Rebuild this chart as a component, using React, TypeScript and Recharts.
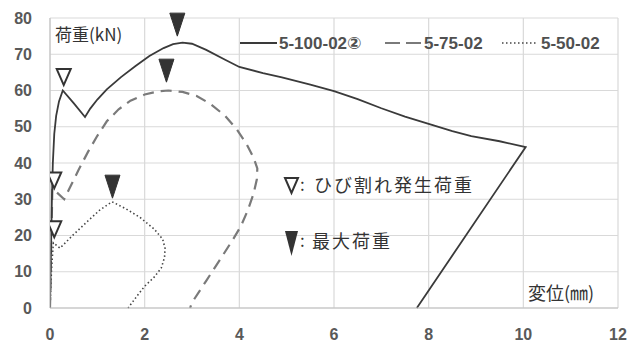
import React from "react";
import {
  ComposedChart,
  Line,
  Scatter,
  XAxis,
  YAxis,
  CartesianGrid,
} from "recharts";

// Series: 5-100-02② (solid)
const s100x = [0, 0.02, 0.04, 0.06, 0.09, 0.13, 0.19, 0.27, 0.5, 0.74, 0.85, 1.0, 1.2, 1.5, 1.8, 2.1, 2.4, 2.6, 2.8, 3.0, 3.3, 3.7, 4.0, 4.5, 4.9, 5.5, 6.0, 6.5, 7.0, 7.5, 8.0, 8.5, 8.9, 9.5, 10.05, 7.75];
const s100y = [0, 15, 30, 40, 48, 53, 57, 60, 56.5, 52.7, 55, 57.5, 60.3, 63.7, 66.7, 69.5, 71.7, 72.8, 73.2, 72.9, 71.2, 68.5, 66.5, 64.8, 63.6, 61.6, 59.8, 57.6, 55.1, 52.8, 50.8, 48.8, 47.4, 46, 44.4, 0];

// Series: 5-75-02 (dashed)
const s75x = [0, 0.03, 0.05, 0.3, 0.45, 0.6, 0.8, 1.0, 1.2, 1.45, 1.7, 2.0, 2.3, 2.5, 2.8, 3.1, 3.4, 3.7, 3.95, 4.15, 4.3, 4.38, 4.37, 4.3, 4.18, 4.03, 3.87, 3.6, 3.3, 3.0, 2.96];
const s75y = [0, 20, 33, 30, 34, 38, 43, 47.5, 51.5, 54.8, 57.2, 58.9, 59.8, 60, 59.6, 58.5, 56.2, 53, 49.2, 45.3, 41.5, 38.5, 35.5, 31.5, 27, 22.5, 19, 13.5, 7.5, 1.5, 0];

// Series: 5-50-02 (dotted)
const s50x = [0, 0.03, 0.07, 0.21, 0.5, 0.8, 1.05, 1.31, 1.6, 1.9, 2.2, 2.38, 2.43, 2.42, 2.35, 2.2, 2.0, 1.85, 1.65];
const s50y = [0, 10, 18, 16.5, 20.3, 24, 27, 29.3, 27.4, 25, 21.8, 19, 16.5, 14, 11, 8.5, 6, 3.5, 0];

// Markers: crack load (open) and max load (filled)
const crackX = [0.29, 0.09, 0.09];
const crackY = [61.5, 33, 19.5];
const maxX = [2.69, 2.46, 1.32];
const maxY = [75, 62.3, 30.3];

const xTicks = [0, 2, 4, 6, 8, 10, 12];
const yTicks = [0, 10, 20, 30, 40, 50, 60, 70, 80];

const zip = (xs: number[], ys: number[]) => xs.map((x, i) => ({ x, y: ys[i] }));
const d100 = zip(s100x, s100y);
const d75 = zip(s75x, s75y);
const d50 = zip(s50x, s50y);
const dCrack = zip(crackX, crackY);
const dMax = zip(maxX, maxY);

const OpenTri = (p: any) => {
  const { cx, cy } = p;
  if (cx == null || cy == null) return null;
  return (
    <polygon
      points={`${cx - 7},${cy - 16} ${cx + 7},${cy - 16} ${cx},${cy}`}
      fill="#fff"
      stroke="#333"
      strokeWidth={2}
    />
  );
};

const FillTri = (p: any) => {
  const { cx, cy } = p;
  if (cx == null || cy == null) return null;
  return (
    <polygon
      points={`${cx - 7.5},${cy - 23} ${cx + 7.5},${cy - 23} ${cx},${cy}`}
      fill="#333"
      stroke="#333"
      strokeWidth={1}
    />
  );
};

const tickStyle = {
  fill: "#595959",
  fontSize: 16,
  fontWeight: "bold" as const,
  fontFamily: "'Liberation Sans', Arial, sans-serif",
};

const jp = "'Noto Sans CJK JP', sans-serif";
const legFont = "'Liberation Sans', 'DejaVu Sans', sans-serif";

export default function App() {
  return (
    <div style={{ position: "absolute", left: 0, top: 0, width: 640, height: 345, background: "#fff" }}>
      <ComposedChart
        width={640}
        height={345}
        margin={{ top: 18, right: 22, bottom: 7, left: 10 }}
      >
        <CartesianGrid stroke="#d9d9d9" strokeWidth={1.2} />
        <XAxis
          type="number"
          dataKey="x"
          domain={[0, 12]}
          ticks={xTicks}
          tickLine={false}
          axisLine={{ stroke: "#c0c0c0" }}
          tick={tickStyle}
          tickMargin={15}
          height={30}
          allowDataOverflow
        />
        <YAxis
          type="number"
          dataKey="y"
          domain={[0, 80]}
          ticks={yTicks}
          tickLine={false}
          axisLine={{ stroke: "#c0c0c0" }}
          tick={tickStyle}
          tickMargin={12}
          width={40}
        />
        <Line data={d50} dataKey="y" type="linear" stroke="#444" strokeWidth={1.6} strokeDasharray="1.5 2.5" dot={false} isAnimationActive={false} />
        <Line data={d75} dataKey="y" type="linear" stroke="#7a7a7a" strokeWidth={2.2} strokeDasharray="11 7" dot={false} isAnimationActive={false} />
        <Line data={d100} dataKey="y" type="linear" stroke="#3a3a3a" strokeWidth={1.8} dot={false} isAnimationActive={false} />
        <Scatter data={dCrack} dataKey="y" shape={OpenTri} isAnimationActive={false} />
        <Scatter data={dMax} dataKey="y" shape={FillTri} isAnimationActive={false} />
      </ComposedChart>
      <svg
        width={640}
        height={345}
        style={{ position: "absolute", left: 0, top: 0, pointerEvents: "none" }}
      >
        <text x={55} y={41} fontFamily={jp} fontSize={17} fill="#333">荷重(kN)</text>
        <text x={528} y={300} fontFamily={jp} fontSize={18} fill="#333">変位(㎜)</text>

        {/* legend */}
        <line x1={240} y1={43} x2={277} y2={43} stroke="#3a3a3a" strokeWidth={1.8} />
        <text x={279} y={49} fontFamily={legFont} fontSize={17} fontWeight="bold" fill="#505050">5-100-02②</text>
        <line x1={385} y1={43} x2={421} y2={43} stroke="#7a7a7a" strokeWidth={2} strokeDasharray="15 6" />
        <text x={424} y={49} fontFamily={legFont} fontSize={17} fontWeight="bold" fill="#505050">5-75-02</text>
        <line x1={502} y1={43} x2={537} y2={43} stroke="#444" strokeWidth={1.5} strokeDasharray="1.5 2.5" />
        <text x={541} y={49} fontFamily={legFont} fontSize={17} fontWeight="bold" fill="#505050">5-50-02</text>

        {/* marker key */}
        <polygon points="285,178 298,178 291.5,193" fill="#fff" stroke="#333" strokeWidth={2} />
        <text x={300} y={191} fontFamily={jp} fontSize={17} fill="#333">:</text>
        <text x={314} y={192} fontFamily={jp} fontSize={18} letterSpacing={2} fill="#333">ひび割れ発生荷重</text>
        <polygon points="285,231 298,231 291.5,256" fill="#333" />
        <text x={300} y={247} fontFamily={jp} fontSize={17} fill="#333">:</text>
        <text x={312} y={248} fontFamily={jp} fontSize={18} letterSpacing={2} fill="#333">最大荷重</text>
      </svg>
    </div>
  );
}
